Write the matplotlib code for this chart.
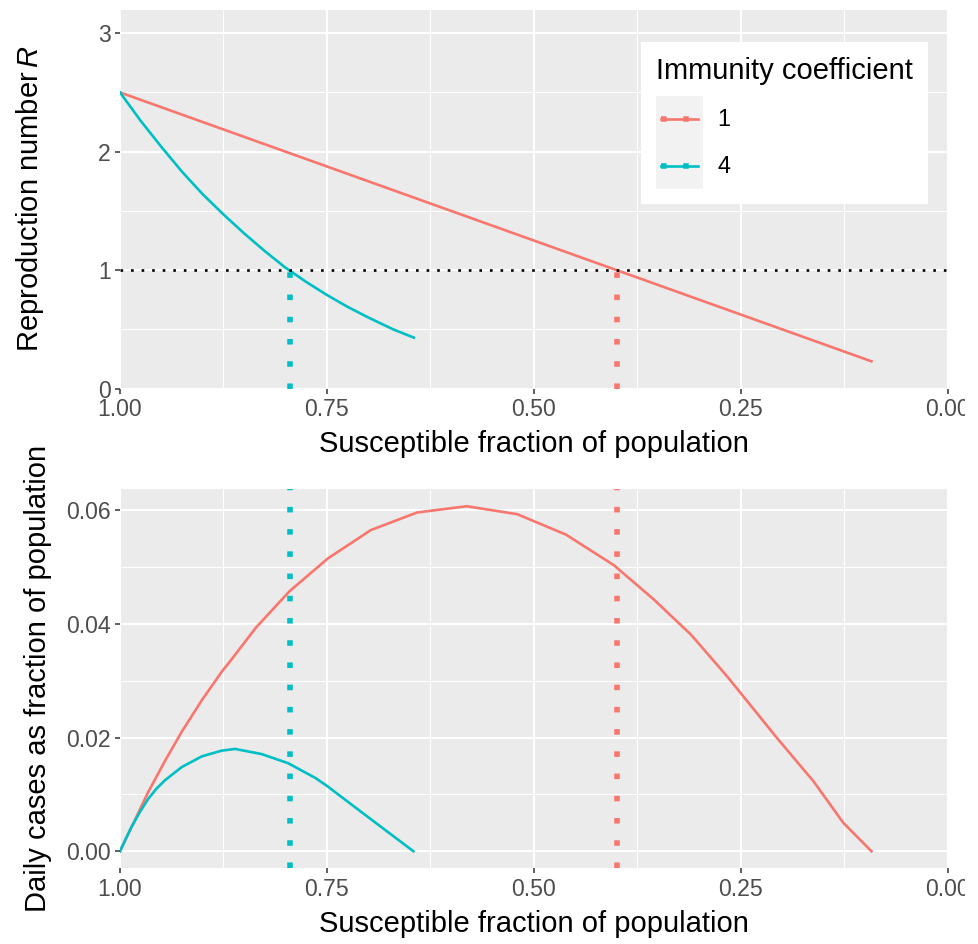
import numpy as np
import matplotlib
matplotlib.use('Agg')
import matplotlib.pyplot as plt
from matplotlib.lines import Line2D
from matplotlib.patches import Rectangle
from matplotlib.legend_handler import HandlerBase
from matplotlib.transforms import Bbox, TransformedBbox

plt.rcParams['font.family'] = ['Liberation Sans', 'DejaVu Sans']
plt.rcParams['mathtext.fontset'] = 'custom'
plt.rcParams['mathtext.rm'] = 'Liberation Sans'
plt.rcParams['mathtext.it'] = 'Liberation Sans:italic'

RED = '#F8766D'
CYAN = '#00BFC4'

# immunity coefficients and where R crosses 1
coefs = ['1', '4']
colors = [RED, CYAN]
s_threshold = [0.40, 0.795]

# top panel: reproduction number vs susceptible fraction
r_s_1 = [1.00, 0.092]
r_val_1 = [2.50, 0.23]
r_s_4 = [1.00, 0.975, 0.95, 0.925, 0.90, 0.875, 0.85, 0.825, 0.80, 0.775, 0.75, 0.725, 0.70, 0.67, 0.645]
r_val_4 = [2.50, 2.26, 2.04, 1.83, 1.64, 1.47, 1.31, 1.16, 1.02, 0.90, 0.79, 0.69, 0.60, 0.50, 0.43]

# bottom panel: daily cases vs susceptible fraction
c_s_1 = [1.00, 0.982, 0.966, 0.9456, 0.9255, 0.901, 0.877, 0.866, 0.836, 0.7955, 0.749,
         0.697, 0.641, 0.581, 0.520, 0.461, 0.403, 0.355, 0.310, 0.266, 0.206, 0.162, 0.126, 0.092]
c_val_1 = [0.0, 0.0055, 0.0104, 0.0159, 0.0210, 0.0266, 0.0316, 0.0336, 0.0393, 0.0457, 0.0515,
           0.0565, 0.0596, 0.0607, 0.0593, 0.0557, 0.0503, 0.0443, 0.0381, 0.0307, 0.0199, 0.0123, 0.0050, 0.0]
c_s_4 = [1.00, 0.993, 0.986, 0.976, 0.966, 0.956, 0.9456, 0.9255, 0.901, 0.877, 0.861, 0.829,
         0.797, 0.764, 0.750, 0.702, 0.6455]
c_val_4 = [0.0, 0.0022, 0.0043, 0.0069, 0.0092, 0.0110, 0.0125, 0.0148, 0.0167, 0.0177, 0.0180, 0.0171,
           0.0155, 0.0129, 0.0115, 0.0062, 0.0]

fig = plt.figure(figsize=(9.79, 9.44), dpi=100)
ax1 = fig.add_axes([0.1226, 0.5884, 0.8453, 0.4015])
ax2 = fig.add_axes([0.1226, 0.0800, 0.8453, 0.4020])

x_ticks = [0, 0.25, 0.5, 0.75, 1.0]
x_labels = ['0.00', '0.25', '0.50', '0.75', '1.00']
# the reference image is cut just right of the last tick label
clip = TransformedBbox(Bbox([[0, 0], [965 / 979, 1]]), fig.transFigure)


def style(ax):
    ax.set_facecolor('#EBEBEB')
    for sp in ax.spines.values():
        sp.set_visible(False)
    ax.set_xlim(1, 0)
    ax.set_xticks(x_ticks)
    ax.set_xticklabels(x_labels)
    ax.set_xticks([0.125, 0.375, 0.625, 0.875], minor=True)
    ax.grid(which='major', color='white', lw=1.5)
    ax.grid(which='minor', color='white', lw=0.75)
    ax.set_axisbelow(True)
    ax.tick_params(which='major', length=3.6, width=1.1, color='#333333',
                   labelsize=16.6, labelcolor='#4D4D4D', pad=3)
    ax.tick_params(which='minor', length=0)
    ax.set_xlabel('Susceptible fraction of population', fontsize=21, labelpad=6.5)
    for lbl in ax.get_xticklabels():
        lbl.set_clip_box(clip)
        lbl.set_clip_on(True)


style(ax1)
style(ax2)

# top panel
ax1.plot(r_s_1, r_val_1, color=RED, lw=1.9)
ax1.plot(r_s_4, r_val_4, color=CYAN, lw=1.9)
ax1.axhline(1, color='black', lw=1.9, dashes=(1, 3))
for s, c in zip(s_threshold, colors):
    ax1.plot([s, s], [0, 1], color=c, lw=4.0, dashes=(1, 3))
ax1.set_ylim(0, 3.2)
ax1.set_yticks([0, 1, 2, 3])
ax1.set_yticks([0.5, 1.5, 2.5], minor=True)
ax1.set_ylabel('Reproduction number$\\,R$', fontsize=21)
ax1.yaxis.set_label_coords(-0.089, 0.5)

# bottom panel
ax2.plot(c_s_1, c_val_1, color=RED, lw=1.9)
ax2.plot(c_s_4, c_val_4, color=CYAN, lw=1.9)
for s, c in zip(s_threshold, colors):
    ax2.axvline(s, color=c, lw=4.0, dashes=(1, 3))
vmax = max(max(c_val_1), max(c_val_4))
ax2.set_ylim(-0.05 * vmax, 1.05 * vmax)
ax2.set_yticks([0, 0.02, 0.04, 0.06])
ax2.set_yticklabels(['0.00', '0.02', '0.04', '0.06'])
ax2.set_yticks([0.01, 0.03, 0.05], minor=True)
ax2.set_ylabel('Daily cases as fraction of population', fontsize=21)
ax2.yaxis.set_label_coords(-0.082, 0.5)


class KeyHandler(HandlerBase):
    # ggplot-like key: grey background, solid line with the dotted line on top
    def create_artists(self, legend, orig_handle, xdescent, ydescent, width, height, fontsize, trans):
        c = orig_handle.get_color()
        bg = Rectangle((-xdescent, -ydescent), width, height, facecolor='#F2F2F2',
                       edgecolor='none', transform=trans)
        yc = -ydescent + height / 2
        x0 = -xdescent + 0.11 * width
        x1 = -xdescent + 0.90 * width
        solid = Line2D([x0, x1], [yc, yc], color=c, lw=1.9, transform=trans)
        dots = Line2D([x0, x1], [yc, yc], color=c, lw=4.0, dashes=(1, 3), transform=trans)
        return [bg, solid, dots]


handles = [Line2D([], [], color=c) for c in colors]
leg = ax1.legend(handles, coefs, title='Immunity coefficient', loc='upper right',
                 bbox_to_anchor=(0.976, 0.914), borderaxespad=0, frameon=True, fancybox=False,
                 edgecolor='none', framealpha=1, facecolor='white', borderpad=0.64,
                 handlelength=2.0, handleheight=2.675, handletextpad=0.65, labelspacing=0,
                 fontsize=16.8, title_fontsize=21, alignment='left',
                 handler_map={Line2D: KeyHandler()})
leg._legend_box.sep = 8

fig.savefig('out.png', dpi=100)
